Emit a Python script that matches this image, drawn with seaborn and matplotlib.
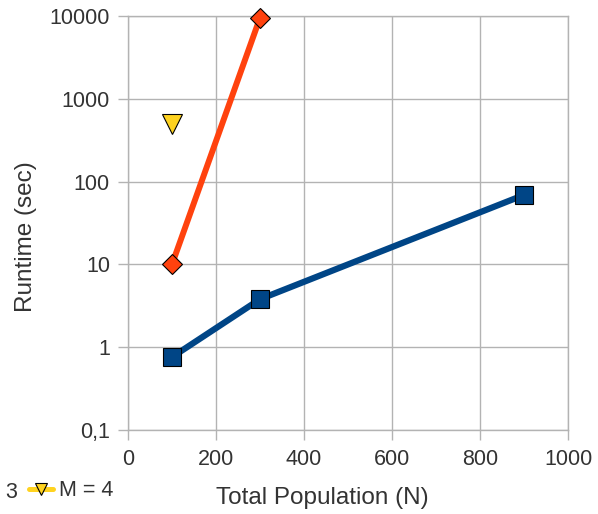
import pandas as pd
import matplotlib.pyplot as plt
import seaborn as sns

# data
n_m2 = [100, 300, 900]
rt_m2 = [0.76, 3.8, 69]
n_m3 = [100, 300]
rt_m3 = [10, 9500]
n_m4 = [100]
rt_m4 = [500]

sns.set_style("whitegrid")
plt.rcParams['font.family'] = ['Liberation Sans', 'DejaVu Sans']

fig = plt.figure(figsize=(5.98, 5.14), dpi=100)
ax = fig.add_axes([128 / 598, 1 - 430 / 514, 440 / 598, 414 / 514])

grid_col = "#b3b3b3"
txt_col = "#333333"

sns.lineplot(x=n_m2, y=rt_m2, ax=ax, color="#004586", lw=4.5, marker="s",
             markersize=13, markeredgecolor="black", markeredgewidth=0.8,
             label="M = 2", clip_on=False, zorder=3)
sns.lineplot(x=n_m3, y=rt_m3, ax=ax, color="#ff420e", lw=4.3, marker="D",
             markersize=10, markeredgecolor="black", markeredgewidth=0.8,
             label="M = 3", clip_on=False, zorder=3)
sns.lineplot(x=n_m4, y=rt_m4, ax=ax, color="#ffd320", lw=3.6, marker="v",
             markersize=14, markeredgecolor="black", markeredgewidth=0.8,
             label="M = 4", clip_on=False, zorder=3)

ax.set_yscale("log")
ax.set_xlim(0, 1000)
ax.set_ylim(0.1, 10000)
ax.set_xticks([0, 200, 400, 600, 800, 1000])
ax.set_yticks([0.1, 1, 10, 100, 1000, 10000])
ax.set_yticklabels(["0,1", "1", "10", "100", "1000", "10000"])
ax.minorticks_off()

ax.grid(True, color=grid_col, lw=1)
for s in ax.spines.values():
    s.set_color(grid_col)
    s.set_linewidth(1)
ax.tick_params(axis="both", colors=grid_col, labelcolor=txt_col, labelsize=15.5,
               length=7, width=1, direction="out", left=True, bottom=True)
ax.tick_params(axis="x", pad=7)
ax.tick_params(axis="y", pad=6)

ax.set_xlabel("Total Population (N)", fontsize=17.5, color=txt_col, va="center")
ax.set_ylabel("Runtime (sec)", fontsize=17.5, color=txt_col, va="center")
ax.xaxis.set_label_coords(194 / 440, -68 / 414)
ax.yaxis.set_label_coords(-102 / 440, 193 / 414)

# legend runs off the left edge in the original; only "3" and the last entry show
ax.get_legend().remove()
handles, labels = ax.get_legend_handles_labels()
fig.text(5 / 598, 1 - 492 / 514, "3", fontsize=15.5, color=txt_col, va="center", ha="left")
fig.legend(handles[2:], labels[2:], frameon=False, loc="center left",
           bbox_to_anchor=(29 / 598, 1 - 491 / 514), fontsize=15.5, handlelength=1.1,
           handletextpad=0.3, borderpad=0, borderaxespad=0, markerscale=0.6,
           labelcolor=txt_col)

fig.savefig("out.png", dpi=100)
